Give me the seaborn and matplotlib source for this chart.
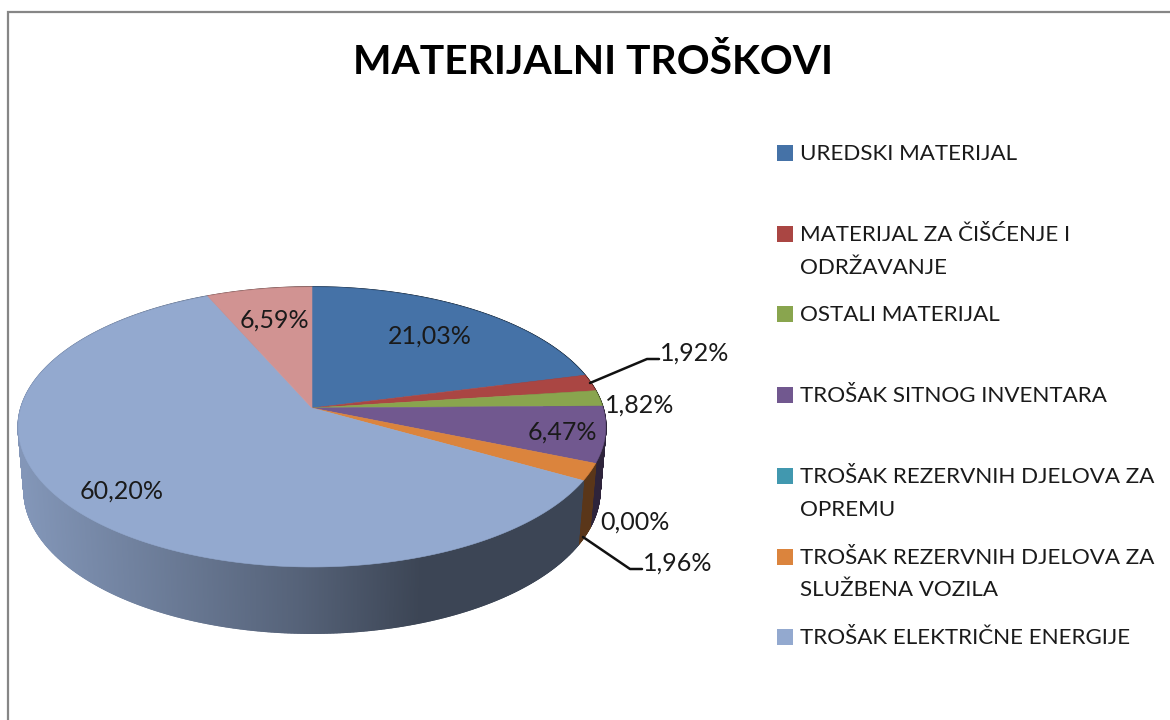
import numpy as np
import matplotlib
matplotlib.use("Agg")
import matplotlib.pyplot as plt
from matplotlib.collections import PolyCollection
from matplotlib.colors import to_rgb
from matplotlib.patches import Polygon, Rectangle
import seaborn as sns

# ---------- data ----------
title = "MATERIJALNI TROŠKOVI"
values = [21.03, 1.92, 1.82, 6.47, 0.00, 1.96, 60.20, 6.59]
value_labels = ["21,03%", "1,92%", "1,82%", "6,47%", "0,00%", "1,96%", "60,20%", "6,59%"]
legend_labels = [
    "UREDSKI MATERIJAL",
    "MATERIJAL ZA ČIŠĆENJE I\nODRŽAVANJE",
    "OSTALI MATERIJAL",
    "TROŠAK SITNOG INVENTARA",
    "TROŠAK REZERVNIH DJELOVA ZA\nOPREMU",
    "TROŠAK REZERVNIH DJELOVA ZA\nSLUŽBENA VOZILA",
    "TROŠAK ELEKTRIČNE ENERGIJE",
]
slice_colors = ["#4572A7", "#AA4643", "#89A54E", "#71588F",
                "#4198AF", "#DB843D", "#93A9CF", "#D19392"]

# ---------- style ----------
sns.set_theme(style="white")
plt.rcParams["font.family"] = ["Lato", "DejaVu Sans"]
palette = sns.color_palette(slice_colors)
TEXT = "#1a1a1a"

fig = plt.figure(figsize=(11.7, 7.2), dpi=100, facecolor="white")
ax = fig.add_axes([0, 0, 1, 1])
ax.set_xlim(0, 1170)
ax.set_ylim(720, 0)
ax.axis("off")

# ---------- perspective pie geometry ----------
CX, APEX_Y = 312, 408
PERSP, RX, RY = 0.1357, 291.0, 137.4
BOTTOM_K, BOTTOM_M, BOTTOM_Y = 0.98, 1.02, 471.0


def rim(theta, bottom=False):
    """Map clockwise-from-top angle on the pie's circle to the picture."""
    X, Y = np.sin(theta), np.cos(theta)
    d = 1 + PERSP * Y
    x, s = RX * X / d, RY * Y / d
    if bottom:
        return CX + BOTTOM_K * x, BOTTOM_Y - BOTTOM_M * s
    return CX + x, APEX_Y - s


def shade(x):
    return np.interp(x, [20, 300, 420], [0.89, 0.58, 0.41])


edges = np.cumsum([0] + values) / sum(values) * 2 * np.pi

# side wall
quads, quad_cols = [], []
for i, col in enumerate(palette):
    a0, a1 = edges[i], edges[i + 1]
    if a1 - a0 <= 0:
        continue
    steps = np.append(np.arange(a0, a1, np.radians(0.25)), a1)
    for t0, t1 in zip(steps[:-1], steps[1:]):
        xt0, yt0 = rim(t0)
        xt1, yt1 = rim(t1)
        xb0, yb0 = rim(t0, True)
        xb1, yb1 = rim(t1, True)
        quads.append([(xt0, yt0), (xt1, yt1), (xb1, yb1), (xb0, yb0)])
        f = shade((xt0 + xt1) / 2)
        quad_cols.append(tuple(np.array(to_rgb(col)) * f))
ax.add_collection(PolyCollection(quads, facecolors=quad_cols, edgecolors=quad_cols,
                                 linewidths=1.2, zorder=1))

# top face
for i, col in enumerate(palette):
    a0, a1 = edges[i], edges[i + 1]
    if a1 - a0 <= 0:
        continue
    th = np.linspace(a0, a1, max(3, int(np.degrees(a1 - a0) * 2)))
    px, py = rim(th)
    pts = np.column_stack([np.r_[CX, px], np.r_[APEX_Y, py]])
    ax.add_patch(Polygon(pts, closed=True, facecolor=col, edgecolor=col,
                         linewidth=0.4, zorder=2))

# ---------- data labels ----------
label_pos = [(430, 336), (695, 353), (640, 405), (562, 432),
             (635, 522), (678, 563), (122, 491), (274, 320)]
for txt, (lx, ly) in zip(value_labels, label_pos):
    ax.text(lx, ly, txt, ha="center", va="center", fontsize=18, color=TEXT, zorder=5)

# leader lines
ax.plot([590, 647, 659], [383, 359, 359], color="#111111", lw=1.8, zorder=4,
        solid_joinstyle="round")
ax.plot([583, 630, 642], [537, 569, 569], color="#111111", lw=1.8, zorder=4,
        solid_joinstyle="round")

# ---------- title ----------
ax.text(593, 63, title, ha="center", va="center", fontsize=29.3, fontweight="bold",
        color="black", zorder=5)

# ---------- legend ----------
LEG_X, LEG_Y, LEG_STEP = 777, 153, 80.7
for i, (lab, col) in enumerate(zip(legend_labels, palette)):
    y = LEG_Y + i * LEG_STEP
    ax.add_patch(Rectangle((LEG_X, y - 8), 16, 16, facecolor=col, edgecolor="none", zorder=3))
    for j, line in enumerate(lab.split("\n")):
        ax.text(800, y + 1 + j * 33, line, ha="left", va="center", fontsize=16.1,
                color=TEXT, zorder=5)

# ---------- frame ----------
ax.plot([8, 8, 1170], [720, 12, 12], color="#868686", lw=1.6, zorder=6,
        solid_joinstyle="miter", clip_on=True)

fig.savefig("out.png", dpi=100, facecolor="white")
